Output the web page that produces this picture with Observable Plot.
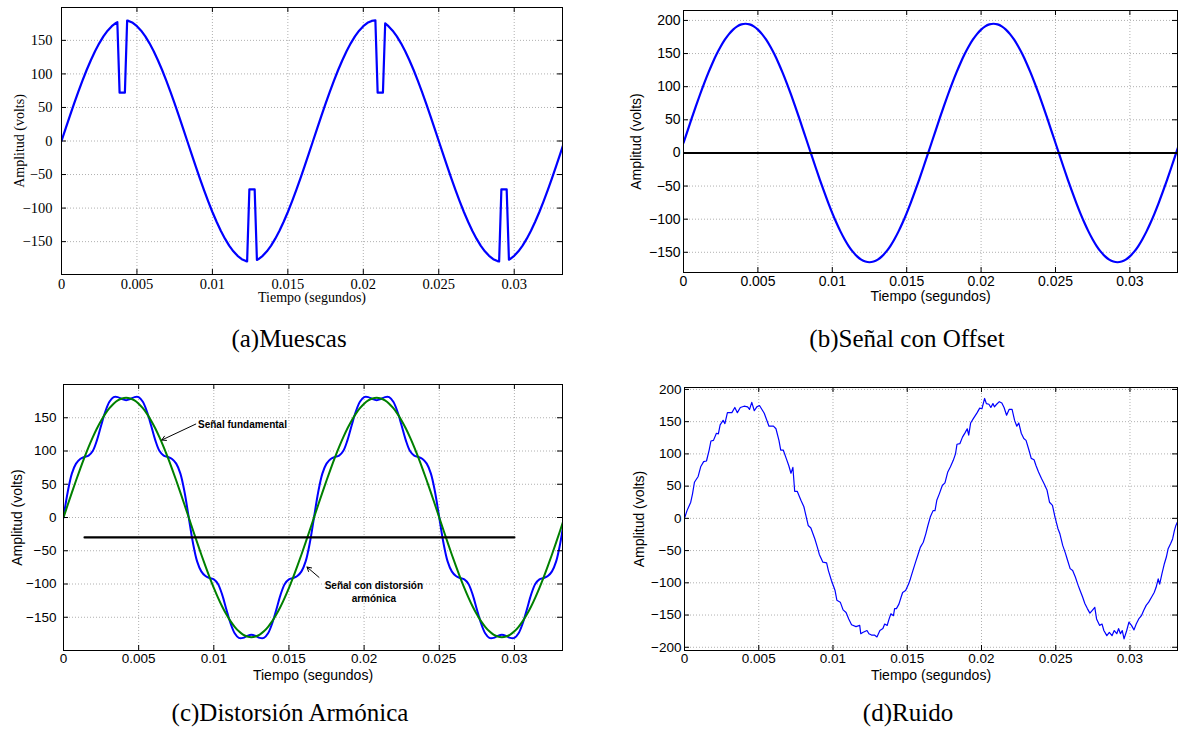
<!DOCTYPE html>
<html>
<head>
<meta charset="utf-8">
<script src="https://cdn.jsdelivr.net/npm/d3@7"></script>
<script src="https://cdn.jsdelivr.net/npm/@observablehq/plot@0.6"></script>
<style>
  html, body { margin: 0; padding: 0; background: #fff; }
  #fig { position: relative; width: 1178px; height: 730px; overflow: hidden; background: #fff; }
  .panel { position: absolute; }
  .cap { position: absolute; font-family: "Liberation Serif", serif; font-size: 25px; color: #000;
         white-space: nowrap; transform: translate(-50%, -50%); line-height: 1; }
</style>
</head>
<body>
<div id="fig"></div>
<script>
// ---------- data ----------
// sample grid: 3600 samples per second (6 degrees of a 60 Hz cycle), two cycles
const sampleRate = 3600;
const gridTimes = d3.range(121).map(k => k / sampleRate);

// 60 Hz fundamental, 180 V peak
const fundamental = [
  0, 18.8, 37.4, 55.6, 73.2, 90, 105.8, 120.4, 133.8, 145.6, 155.9, 164.4, 171.2, 176.1, 179, 180,
  179, 176.1, 171.2, 164.4, 155.9, 145.6, 133.8, 120.4, 105.8, 90, 73.2, 55.6, 37.4, 18.8, 0,
  -18.8, -37.4, -55.6, -73.2, -90, -105.8, -120.4, -133.8, -145.6, -155.9, -164.4, -171.2, -176.1, -179, -180,
  -179, -176.1, -171.2, -164.4, -155.9, -145.6, -133.8, -120.4, -105.8, -90, -73.2, -55.6, -37.4, -18.8, 0,
  18.8, 37.4, 55.6, 73.2, 90, 105.8, 120.4, 133.8, 145.6, 155.9, 164.4, 171.2, 176.1, 179, 180,
  179, 176.1, 171.2, 164.4, 155.9, 145.6, 133.8, 120.4, 105.8, 90, 73.2, 55.6, 37.4, 18.8, 0,
  -18.8, -37.4, -55.6, -73.2, -90, -105.8, -120.4, -133.8, -145.6, -155.9, -164.4, -171.2, -176.1, -179, -180,
  -179, -176.1, -171.2, -164.4, -155.9, -145.6, -133.8, -120.4, -105.8, -90, -73.2, -55.6, -37.4, -18.8, 0
];

// notches (muescas): 4 points per notch
const muescaT = [0.0037, 0.00385, 0.0042, 0.00435,
                 0.0123, 0.01245, 0.0128, 0.01295,
                 0.0208, 0.02095, 0.0213, 0.02145,
                 0.029, 0.02915, 0.0295, 0.02965];
const muescaV = [177.2, 72, 72, 179.6,
                 -179.5, -72, -72, -177.4,
                 180, 72, 72, 175.2,
                 -179.6, -72, -72, -177];

// signal with DC offset
const offsetSignal = [
  15, 33.8, 52.4, 70.6, 88.2, 105, 120.8, 135.4, 148.8, 160.6, 170.9, 179.4, 186.2, 191.1, 194, 195,
  194, 191.1, 186.2, 179.4, 170.9, 160.6, 148.8, 135.4, 120.8, 105, 88.2, 70.6, 52.4, 33.8, 15,
  -3.8, -22.4, -40.6, -58.2, -75, -90.8, -105.4, -118.8, -130.6, -140.9, -149.4, -156.2, -161.1, -164, -165,
  -164, -161.1, -156.2, -149.4, -140.9, -130.6, -118.8, -105.4, -90.8, -75, -58.2, -40.6, -22.4, -3.8, 15,
  33.8, 52.4, 70.6, 88.2, 105, 120.8, 135.4, 148.8, 160.6, 170.9, 179.4, 186.2, 191.1, 194, 195,
  194, 191.1, 186.2, 179.4, 170.9, 160.6, 148.8, 135.4, 120.8, 105, 88.2, 70.6, 52.4, 33.8, 15,
  -3.8, -22.4, -40.6, -58.2, -75, -90.8, -105.4, -118.8, -130.6, -140.9, -149.4, -156.2, -161.1, -164, -165,
  -164, -161.1, -156.2, -149.4, -140.9, -130.6, -118.8, -105.4, -90.8, -75, -58.2, -40.6, -22.4, -3.8, 15
];
const zeroLine = [0];

// harmonically distorted signal
const distorted = [
  0, 38, 66, 81, 88, 91, 93, 100, 116, 138, 159, 174, 181, 181, 178, 176.5,
  178, 181, 181, 174, 159, 138, 116, 100, 93, 91, 88, 81, 66, 38, 0,
  -38, -66, -81, -88, -91, -93, -100, -116, -138, -159, -174, -181, -181, -178, -176.5,
  -178, -181, -181, -174, -159, -138, -116, -100, -93, -91, -88, -81, -66, -38, 0,
  38, 66, 81, 88, 91, 93, 100, 116, 138, 159, 174, 181, 181, 178, 176.5,
  178, 181, 181, 174, 159, 138, 116, 100, 93, 91, 88, 81, 66, 38, 0,
  -38, -66, -81, -88, -91, -93, -100, -116, -138, -159, -174, -181, -181, -178, -176.5,
  -178, -181, -181, -174, -159, -138, -116, -100, -93, -91, -88, -81, -66, -38, 0
];
const refLineT = [0.0014, 0.030];
const refLineV = [-30, -30];

// annotations of panel (c)
const notaTexto = ["Señal fundamental", "Señal con distorsión\narmónica"];
const notaT = [0.00895, 0.02065];
const notaV = [139.5, -111];
const notaAnchor = ["start", "middle"];
const flechaT1 = [0.0088, 0.0170];
const flechaV1 = [140.5, -90];
const flechaT2 = [0.00654, 0.0162];
const flechaV2 = [116.5, -74.5];

// noisy signal
const tD = [0, 0.00017, 0.00042, 0.00054, 0.00067, 0.00092, 0.00109, 0.00129, 0.00148, 0.00166,
  0.00178, 0.00195, 0.00215, 0.00228, 0.0024, 0.0026, 0.00272, 0.00289, 0.00319, 0.00339,
  0.00356, 0.00376, 0.00401, 0.00425, 0.00438, 0.00453, 0.0047, 0.00487, 0.00505, 0.00537,
  0.00569, 0.00599, 0.00616, 0.00636, 0.00648, 0.00665, 0.00685, 0.00702, 0.00717, 0.0073,
  0.00742, 0.00759, 0.00784, 0.00804, 0.00833, 0.00851, 0.00878, 0.00895, 0.00908, 0.00932,
  0.00957, 0.00969, 0.00989, 0.01014, 0.01026, 0.01049, 0.01068, 0.01088, 0.01106, 0.01125,
  0.01155, 0.0118, 0.01187, 0.012, 0.01229, 0.01242, 0.01259, 0.01279, 0.01296, 0.01316,
  0.01336, 0.01348, 0.01365, 0.01378, 0.0139, 0.01407, 0.01415, 0.01427, 0.01444, 0.01459,
  0.01469, 0.01489, 0.01509, 0.01521, 0.01538, 0.01556, 0.0157, 0.01588, 0.01608, 0.01625,
  0.01637, 0.01655, 0.01674, 0.01687, 0.01699, 0.01716, 0.01736, 0.01754, 0.01773, 0.01791,
  0.0181, 0.01825, 0.01835, 0.01855, 0.01872, 0.0189, 0.01904, 0.01914, 0.01927, 0.01946,
  0.01971, 0.01988, 0.02003, 0.02021, 0.02033, 0.0205, 0.02063, 0.02077, 0.02087, 0.02102,
  0.0212, 0.02137, 0.02152, 0.02169, 0.02186, 0.02206, 0.02223, 0.02238, 0.02251, 0.02268,
  0.02285, 0.023, 0.02317, 0.02335, 0.02354, 0.02367, 0.02384, 0.02404, 0.02421, 0.02441,
  0.02458, 0.02478, 0.02495, 0.02515, 0.02528, 0.02547, 0.02565, 0.02577, 0.02597, 0.02614,
  0.02632, 0.02651, 0.02664, 0.02681, 0.02696, 0.02713, 0.0273, 0.02745, 0.02763, 0.02775,
  0.02795, 0.02812, 0.02824, 0.02844, 0.02861, 0.02879, 0.02894, 0.02911, 0.02923, 0.02936,
  0.02948, 0.0296, 0.02978, 0.02993, 0.0301, 0.03027, 0.03042, 0.03059, 0.03077, 0.03092,
  0.03109, 0.03126, 0.03146, 0.03163, 0.03176, 0.0319, 0.032, 0.03215, 0.03232, 0.03245,
  0.03257, 0.03274, 0.03287, 0.03299, 0.03309, 0.03319];
const vD = [0, 12, 25, 38, 56, 65, 80, 88, 89, 106,
  120, 121, 132, 131, 145, 152, 147, 164, 164, 172,
  164, 172, 174, 173, 169, 180, 167, 173, 175, 163,
  143, 143, 139, 121, 106, 106, 93, 82, 70, 79,
  42, 42, 28, 18, -11, -15, -32, -45, -56, -68,
  -69, -81, -96, -112, -127, -130, -142, -146, -156, -165,
  -168, -166, -179, -177, -174, -179, -181, -181, -184, -174,
  -171, -164, -166, -156, -148, -151, -140, -140, -133, -122,
  -115, -112, -102, -94, -81, -68, -58, -45, -37, -24,
  -13, 2, 12, 12, 28, 38, 51, 55, 72, 80,
  90, 100, 115, 116, 126, 133, 139, 129, 148, 155,
  164, 171, 170, 186, 178, 177, 172, 178, 173, 177,
  181, 179, 172, 160, 169, 169, 152, 143, 148, 132,
  124, 121, 108, 93, 91, 82, 72, 62, 54, 44,
  25, 20, 2, -16, -24, -42, -54, -63, -78, -81,
  -91, -104, -112, -122, -132, -140, -147, -143, -138, -156,
  -166, -164, -174, -182, -177, -182, -174, -179, -171, -179,
  -174, -187, -174, -161, -166, -173, -164, -156, -151, -143,
  -135, -130, -122, -115, -107, -94, -102, -86, -70, -60,
  -47, -39, -32, -19, -11, -6];

// axis ticks
const xTicks = [0, 0.005, 0.01, 0.015, 0.02, 0.025, 0.03];
const yTicks150 = [-150, -100, -50, 0, 50, 100, 150];
const yTicks200 = [-150, -100, -50, 0, 50, 100, 150, 200];
const yTicksRuido = [-200, -150, -100, -50, 0, 50, 100, 150, 200];

const captions = ["(a)Muescas", "(b)Señal con Offset", "(c)Distorsión Armónica", "(d)Ruido"];

// ---------- tables ----------
const rows = (ts, vs) => ts.map((t, i) => ({t, v: vs[i]}));
const notchWindows = d3.range(0, muescaT.length, 4).map(i => [muescaT[i], muescaT[i + 3]]);
const seriesA = rows(gridTimes, fundamental)
  .filter(d => !notchWindows.some(([a, b]) => d.t >= a && d.t <= b))
  .concat(rows(muescaT, muescaV))
  .sort((p, q) => p.t - q.t);
const seriesB = rows(gridTimes, offsetSignal);
const seriesCfund = rows(gridTimes, fundamental);
const seriesCdist = rows(gridTimes, distorted);
const seriesCref = rows(refLineT, refLineV);
const notas = notaTexto.map((text, i) => ({text, t: notaT[i], v: notaV[i], anchor: notaAnchor[i]}));
const flechas = flechaT1.map((t, i) => ({t1: t, v1: flechaV1[i], t2: flechaT2[i], v2: flechaV2[i]}));
const seriesD = rows(tD, vD);

// ---------- drawing ----------
const fmtX = d => d === 0 ? "0" : String(+d.toFixed(3));
const fmtY = d => d < 0 ? "\u2212" + Math.abs(d) : String(d);

function panel(cfg) {
  const {width, height, mt, mr, mb, ml, yDomain, yTicks, font, tickFont, labelFont,
         xPad, yPad, xLabelDy, yLabelDx, marks} = cfg;
  const innerW = width - ml - mr, innerH = height - mt - mb, tick = 5;
  const grid = {stroke: "#b0b0b0", strokeOpacity: 1, strokeDasharray: "1,2"};
  return Plot.plot({
    width, height,
    marginTop: mt, marginRight: mr, marginBottom: mb, marginLeft: ml,
    style: {fontFamily: font, fontSize: tickFont + "px", color: "#000", background: "transparent"},
    x: {domain: [0, 0.0332]},
    y: {domain: yDomain},
    marks: [
      Plot.ruleX(xTicks, grid),
      Plot.ruleY(yTicks, grid),
      ...marks,
      Plot.ruleX(xTicks, {stroke: "#000", insetTop: innerH - tick}),
      Plot.ruleX(xTicks, {stroke: "#000", insetBottom: innerH - tick}),
      Plot.ruleY(yTicks, {stroke: "#000", insetRight: innerW - tick}),
      Plot.ruleY(yTicks, {stroke: "#000", insetLeft: innerW - tick}),
      Plot.frame({stroke: "#000"}),
      Plot.axisX({ticks: xTicks, tickFormat: fmtX, tickSize: 0, tickPadding: xPad, label: null,
        fontSize: tickFont, fill: "#000"}),
      Plot.axisY({ticks: yTicks, tickFormat: fmtY, tickSize: 0, tickPadding: yPad, label: null,
        fontSize: tickFont, fill: "#000"}),
      Plot.text(["Tiempo (segundos)"], {text: d => d, frameAnchor: "bottom", lineAnchor: "middle",
        textAnchor: "middle", dy: xLabelDy, fontSize: labelFont}),
      Plot.text(["Amplitud (volts)"], {text: d => d, frameAnchor: "left", lineAnchor: "middle",
        textAnchor: "middle", dx: yLabelDx, rotate: -90, fontSize: labelFont})
    ]
  });
}

const fig = document.getElementById("fig");
function place(svg, left, top, w, h) {
  const div = document.createElement("div");
  div.className = "panel";
  div.style.left = left + "px";
  div.style.top = top + "px";
  div.style.width = w + "px";
  div.style.height = h + "px";
  div.appendChild(svg);
  fig.appendChild(div);
}

// (a) notches
place(panel({
  width: 570, height: 310, mt: 7, mr: 8, mb: 36, ml: 61,
  yDomain: [-199, 199], yTicks: yTicks150,
  font: "Liberation Serif", tickFont: 14.5, labelFont: 14, xPad: 4, yPad: 9,
  xLabelDy: 23.5, yLabelDx: -42,
  marks: [
    Plot.line(seriesA, {x: "t", y: "v", stroke: "#0000ff", strokeWidth: 2.2, clip: true})
  ]
}), 0, 0, 570, 310);

// (b) offset
place(panel({
  width: 578, height: 310, mt: 10, mr: 1, mb: 38, ml: 83,
  yDomain: [-180.5, 215], yTicks: yTicks200,
  font: "Liberation Sans", tickFont: 14, labelFont: 14, xPad: 4, yPad: 3,
  xLabelDy: 24.5, yLabelDx: -47,
  marks: [
    Plot.line(seriesB, {x: "t", y: "v", stroke: "#0000ff", strokeWidth: 2.2, curve: "catmull-rom", clip: true}),
    Plot.ruleY(zeroLine, {stroke: "#000", strokeWidth: 2})
  ]
}), 600, 0, 578, 310);

// (c) harmonic distortion
place(panel({
  width: 570, height: 320, mt: 9, mr: 8, mb: 45, ml: 63,
  yDomain: [-200, 200], yTicks: yTicks150,
  font: "Liberation Sans", tickFont: 13.5, labelFont: 14, xPad: 3, yPad: 7,
  xLabelDy: 25, yLabelDx: -46,
  marks: [
    Plot.line(seriesCdist, {x: "t", y: "v", stroke: "#0000ff", strokeWidth: 2, curve: "catmull-rom", clip: true}),
    Plot.line(seriesCfund, {x: "t", y: "v", stroke: "#008000", strokeWidth: 2, curve: "catmull-rom", clip: true}),
    Plot.line(seriesCref, {x: "t", y: "v", stroke: "#000", strokeWidth: 2.2}),
    Plot.arrow(flechas, {x1: "t1", y1: "v1", x2: "t2", y2: "v2", stroke: "#000", strokeWidth: 1, headLength: 7}),
    Plot.text(notas, {x: "t", y: "v", text: "text", textAnchor: "start", filter: d => d.anchor === "start",
      fontWeight: "bold", fontSize: 10, fontFamily: "Liberation Sans"}),
    Plot.text(notas, {x: "t", y: "v", text: "text", textAnchor: "middle", filter: d => d.anchor === "middle",
      fontWeight: "bold", fontSize: 10, fontFamily: "Liberation Sans", lineHeight: 1.35})
  ]
}), 0, 375, 570, 320);

// (d) noise
place(panel({
  width: 578, height: 320, mt: 12, mr: 1, mb: 45, ml: 84,
  yDomain: [-205, 203], yTicks: yTicksRuido,
  font: "Liberation Sans", tickFont: 13.5, labelFont: 14, xPad: 3, yPad: 3,
  xLabelDy: 25, yLabelDx: -45,
  marks: [
    Plot.line(seriesD, {x: "t", y: "v", stroke: "#0000ff", strokeWidth: 1.2, clip: true})
  ]
}), 600, 375, 578, 320);

// sub-figure captions
const capPos = [[289, 338], [907, 338], [290, 712], [908, 712]];
captions.forEach((c, i) => {
  const d = document.createElement("div");
  d.className = "cap";
  d.textContent = c;
  d.style.left = capPos[i][0] + "px";
  d.style.top = capPos[i][1] + "px";
  fig.appendChild(d);
});
</script>
</body>
</html>
